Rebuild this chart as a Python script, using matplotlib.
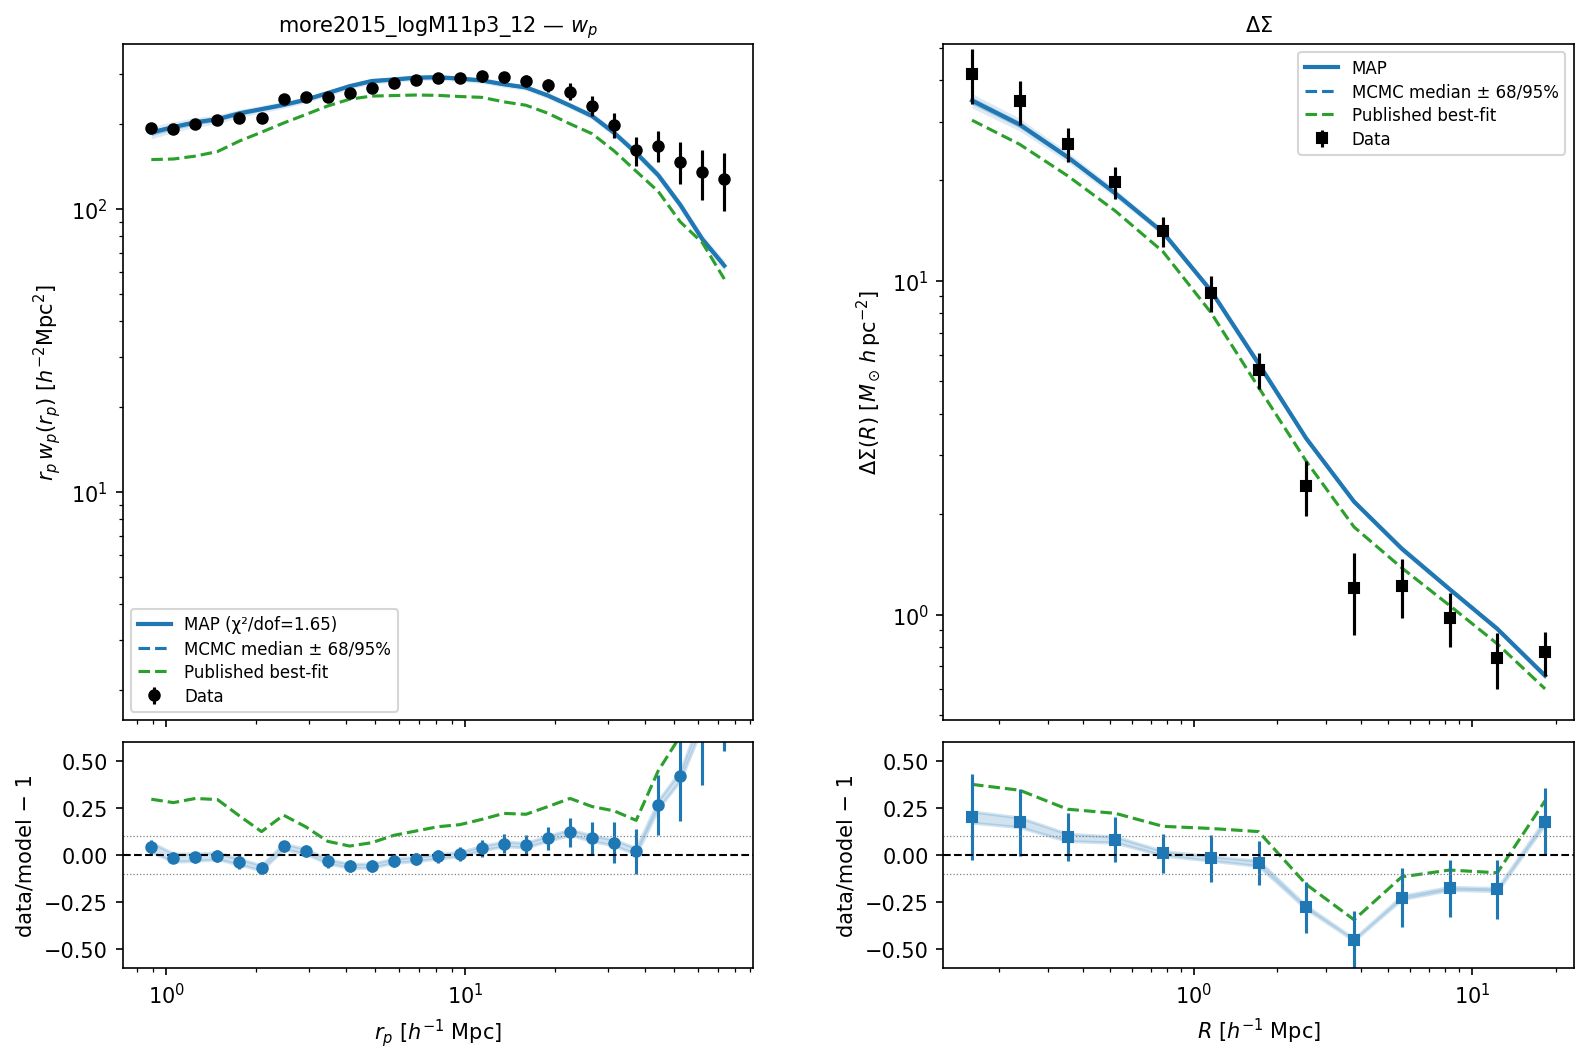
import numpy as np
import matplotlib
matplotlib.use("Agg")
import matplotlib.pyplot as plt

# --- w_p(r_p) : projected separations [h^-1 Mpc] ---
rp = [0.890, 1.055, 1.250, 1.482, 1.756, 2.081, 2.466, 2.923, 3.464, 4.105,
      4.865, 5.766, 6.833, 8.097, 9.598, 11.37, 13.48, 15.98, 18.93, 22.44,
      26.60, 31.52, 37.35, 44.28, 52.47, 62.19, 73.71]
wp_data = [193.8, 192.0, 200.0, 206.6, 210.0, 210.0, 243.9, 248.0, 248.0, 256.0,
           267.0, 278.0, 285.0, 290.0, 290.0, 295.0, 292.0, 283.0, 274.0, 260.0,
           232.0, 198.0, 161.0, 167.0, 147.0, 134.5, 128.0]
wp_err = [7, 6, 6, 7, 8, 7, 7, 8, 9, 9,
          9, 9, 9, 10, 11, 13, 14, 14, 15, 18,
          19, 20, 19, 21, 25, 27, 30]
wp_map = [186.2, 194.7, 202.4, 207.6, 217.8, 225.3, 233.2, 243.1, 256.7, 271.5,
          283.1, 286.6, 291.1, 292.0, 288.8, 284.5, 275.7, 268.8, 251.6, 231.9,
          213.0, 185.7, 157.8, 131.6, 103.4, 78.2, 63.0]
wp_pub = [149.4, 150.1, 153.7, 159.5, 173.8, 186.7, 201.2, 215.5, 231.1, 244.3,
          250.5, 251.6, 252.7, 252.0, 249.6, 247.9, 239.0, 232.5, 217.8, 199.8,
          184.4, 160.3, 135.9, 115.3, 90.0, 76.0, 56.5]
# relative half-widths of the MCMC 68% band
wp_band68 = [0.025, 0.022, 0.02, 0.018, 0.016, 0.015, 0.014, 0.013, 0.012, 0.012,
             0.012, 0.012, 0.012, 0.012, 0.012, 0.012, 0.012, 0.012, 0.013, 0.013,
             0.014, 0.015, 0.016, 0.017, 0.018, 0.02, 0.022]

# --- Delta Sigma(R) ---
R = [0.160, 0.2374, 0.3524, 0.5231, 0.7762, 1.152, 1.710, 2.538, 3.767, 5.591,
     8.299, 12.32, 18.28]
ds_data = [41.7, 34.5, 25.7, 19.8, 14.1, 9.19, 5.40, 2.43, 1.20, 1.22, 0.98, 0.740, 0.772]
ds_err = [7.9, 5.2, 3.0, 2.2, 1.45, 1.15, 0.66, 0.46, 0.33, 0.245, 0.18, 0.142, 0.117]
ds_map = [34.7, 29.4, 23.5, 18.3, 13.97, 9.36, 5.65, 3.37, 2.18, 1.576, 1.192, 0.906, 0.656]
ds_pub = [30.3, 25.65, 20.66, 16.2, 12.23, 8.05, 4.80, 2.88, 1.83, 1.38, 1.065, 0.817, 0.599]
ds_band68 = [0.025, 0.022, 0.018, 0.015, 0.012, 0.012, 0.015, 0.012, 0.01, 0.012, 0.01, 0.01, 0.012]

chi2_dof = 1.65

rp = np.array(rp); R = np.array(R)
wp_data = np.array(wp_data); wp_err = np.array(wp_err, float)
wp_map = np.array(wp_map); wp_pub = np.array(wp_pub); wp_band68 = np.array(wp_band68)
ds_data = np.array(ds_data); ds_err = np.array(ds_err)
ds_map = np.array(ds_map); ds_pub = np.array(ds_pub); ds_band68 = np.array(ds_band68)

fig = plt.figure(figsize=(10.593, 7.073), dpi=150)
gs = fig.add_gridspec(2, 2, height_ratios=[3, 1], left=0.0772, right=0.9904,
                      top=0.958, bottom=0.0869, wspace=0.302, hspace=0.0494)


def panel(ax, ax_r, x, data, err, mod_map, mod_pub, band, marker, map_label):
    lo68, hi68 = mod_map * (1 - band), mod_map * (1 + band)
    lo95, hi95 = mod_map * (1 - 2 * band), mod_map * (1 + 2 * band)
    ax.fill_between(x, lo95, hi95, color="C0", alpha=0.15, lw=0)
    ax.fill_between(x, lo68, hi68, color="C0", alpha=0.3, lw=0)
    ax.plot(x, mod_map, "-", color="C0", lw=2, label=map_label)
    ax.plot(x, mod_map, "--", color="C0", lw=1.5, label="MCMC median ± 68/95%")
    ax.plot(x, mod_pub, "--", color="C2", lw=1.5, label="Published best-fit")
    ax.errorbar(x, data, yerr=err, fmt=marker, color="k", ms=5, label="Data")
    ax.set_xscale("log"); ax.set_yscale("log")
    ax.tick_params(labelbottom=False)

    # residuals
    ax_r.fill_between(x, data / hi68 - 1, data / lo68 - 1, color="C0", alpha=0.2, lw=1.5)
    ax_r.plot(x, data / mod_pub - 1, "--", color="C2", lw=1.5)
    ax_r.errorbar(x, data / mod_map - 1, yerr=err / mod_map, fmt=marker, color="C0", ms=5)
    ax_r.axhline(0, color="k", ls="--", lw=1)
    ax_r.axhline(0.1, color="gray", ls=":", lw=0.6)
    ax_r.axhline(-0.1, color="gray", ls=":", lw=0.6)
    ax_r.set_ylim(-0.6, 0.6)
    ax_r.set_ylabel("data/model − 1")


ax1 = fig.add_subplot(gs[0, 0])
ax1r = fig.add_subplot(gs[1, 0], sharex=ax1)
panel(ax1, ax1r, rp, wp_data, wp_err, wp_map, wp_pub, wp_band68, "o",
      f"MAP (χ²/dof={chi2_dof:.2f})")
ax1.set_ylim(1.56, 384)
ax1.set_title(r"more2015_logM11p3_12 — $w_p$", fontsize=10)
ax1.set_ylabel(r"$r_p\,w_p(r_p)$ [$h^{-2}$Mpc$^2$]")
ax1.legend(loc="lower left", fontsize=8, labelspacing=0.35)
ax1r.set_xlabel(r"$r_p$ [$h^{-1}$ Mpc]")

ax2 = fig.add_subplot(gs[0, 1])
ax2r = fig.add_subplot(gs[1, 1], sharex=ax2)
panel(ax2, ax2r, R, ds_data, ds_err, ds_map, ds_pub, ds_band68, "s", "MAP")
ax2.set_ylim(0.483, 51.4)
ax2.set_title(r"$\Delta\Sigma$", fontsize=10)
ax2.set_ylabel(r"$\Delta\Sigma(R)$ [$M_\odot\,h\,{\rm pc}^{-2}$]")
ax2.legend(loc="upper right", fontsize=8, labelspacing=0.35)
ax2r.set_xlabel(r"$R$ [$h^{-1}$ Mpc]")

fig.savefig("out.png", dpi=150)
